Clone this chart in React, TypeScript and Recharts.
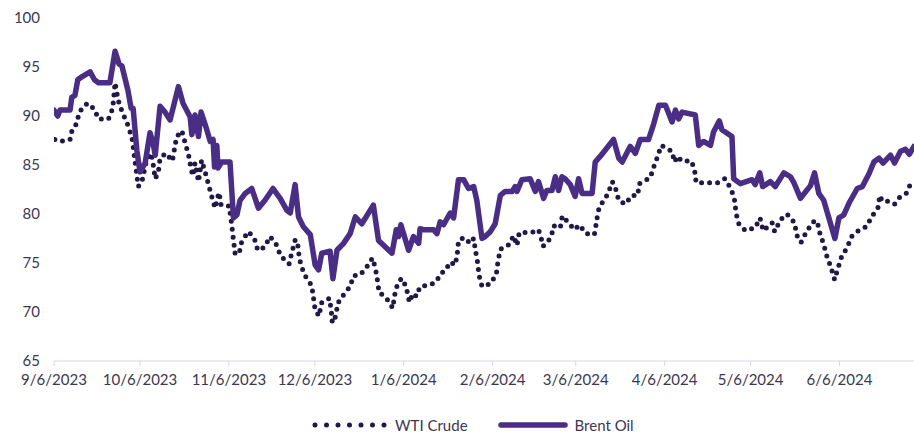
import { LineChart, Line, XAxis, YAxis } from 'recharts'

// x = days since 9/6/2023
const tickDays = [0, 30, 61, 91, 122, 153, 182, 213, 243, 274]
const tickLabels = [
  '9/6/2023',
  '10/6/2023',
  '11/6/2023',
  '12/6/2023',
  '1/6/2024',
  '2/6/2024',
  '3/6/2024',
  '4/6/2024',
  '5/6/2024',
  '6/6/2024',
]
const yTicks = [65, 70, 75, 80, 85, 90, 95, 100]

const brentDays = [
  0, 1.3, 2.1, 5.6, 6.2, 7.3, 8.3, 9.7, 12.6, 14.1, 15.5, 19.5, 21.3, 22.7, 23.7, 25.8, 26.9, 27.6, 28.9, 30,
  31.8, 33.5, 34.6, 35.3, 37, 38.7, 40.5, 43.4, 45, 47.5, 48.1, 49.2, 50.4, 51.3, 53.3, 54.5, 55.5, 56, 56.8, 57.2,
  58.5, 61.4, 62.6, 63.8, 64.9, 66.7, 69, 71.3, 73.6, 76.4, 78.9, 81.2, 82.4, 84.1, 85.3, 87, 89.4, 91.1, 92.3, 93.4,
  96.3, 97.3, 98.7, 101, 103.3, 105.1, 107.4, 111.4, 113.2, 117.9, 119.4, 120.2, 121, 123.7, 125.4, 127.2, 127.7, 128.9, 132.4, 133.6,
  134.7, 135.9, 138.2, 139.4, 141.1, 142.9, 144.6, 146.4, 147.5, 149.3, 150.4, 152.2, 153.9, 155.7, 157.4, 159.8, 160.9, 161.5, 163.2, 166.1,
  167.9, 169, 170.8, 171.9, 173.7, 174.9, 176, 177.2, 178.3, 180.1, 181.8, 183, 184.2, 187.7, 188.8, 190.6, 195.2, 197, 198.2, 201,
  202.8, 204.5, 207.4, 209.2, 211, 213.3, 215.6, 216.8, 217.9, 219.1, 223.7, 224.9, 226.6, 229, 230.1, 232.1, 233, 236.5, 237.1, 239.4,
  243.5, 244.6, 246.2, 247.2, 249.9, 251.6, 254.6, 256.9, 258.1, 260.4, 263.9, 265.3, 266.8, 268.5, 272.4, 273.8, 275.5, 277.5, 280.2, 282,
  284.3, 286, 287.8, 289.2, 291.8, 293.2, 295.3, 297, 298.4, 300,
]
const brentPrices = [
  90.6, 90.0, 90.6, 90.6, 91.9, 92.1, 93.7, 94.0, 94.5, 93.7, 93.4, 93.4, 96.6, 95.3, 95.1, 92.6, 90.8, 90.8, 86.5, 84.3,
  85.2, 88.3, 87.2, 86.0, 91.0, 90.4, 89.6, 93.0, 91.3, 89.9, 88.1, 90.1, 87.9, 90.4, 88.6, 87.4, 87.6, 84.8, 87.0, 84.7,
  85.3, 85.3, 79.6, 79.9, 81.4, 82.1, 82.6, 80.6, 81.4, 82.6, 81.6, 80.4, 80.1, 83.0, 79.7, 78.7, 77.9, 74.8, 74.3, 76.0,
  76.2, 73.4, 76.3, 77.0, 78.0, 79.7, 79.0, 80.9, 77.3, 76.0, 78.4, 77.7, 78.9, 76.3, 77.7, 77.0, 78.5, 78.4, 78.4, 78.0,
  79.2, 78.9, 80.1, 79.6, 83.5, 83.5, 82.6, 82.8, 81.4, 77.5, 77.7, 78.2, 79.0, 81.9, 82.3, 82.3, 82.8, 82.3, 83.5, 83.6,
  82.3, 83.3, 81.6, 82.4, 82.4, 83.8, 82.4, 83.8, 83.6, 83.0, 81.8, 83.6, 82.1, 82.1, 85.3, 85.9, 87.6, 85.7, 85.3, 86.9,
  86.2, 87.6, 87.6, 89.2, 91.1, 91.1, 89.4, 90.6, 89.7, 90.4, 90.1, 87.0, 87.4, 87.0, 88.4, 89.5, 88.6, 87.9, 83.6, 83.1,
  83.5, 83.0, 84.2, 82.8, 83.3, 82.8, 84.2, 83.8, 83.2, 81.6, 82.9, 84.2, 82.1, 81.4, 77.5, 79.6, 79.9, 81.2, 82.6, 82.8,
  84.1, 85.3, 85.7, 85.2, 86.0, 85.2, 86.4, 86.6, 86.1, 86.9,
]

const wtiDays = [
  0.3, 2.1, 5.6, 6.4, 7.9, 8.8, 11.6, 14.1, 15.5, 19, 20.5, 21.3, 22.4, 23.8, 25.6, 27.2, 29.4, 30.6, 32.3, 33.9,
  34.7, 35.3, 36.4, 37, 39, 41.3, 42, 42.8, 44.6, 45.7, 46.9, 47.7, 48.4, 49.2, 50.4, 51.5, 52.7, 53.9, 55, 56.2,
  57, 57.6, 58.3, 61.1, 61.7, 63.2, 64.6, 65.5, 67.8, 69.9, 71.1, 73.4, 75.4, 77.5, 79.1, 82, 83, 84.1, 84.9, 85.3,
  86.1, 87.6, 89.9, 90.5, 91.1, 92.5, 93.2, 96.1, 96.7, 97.1, 98.3, 99, 100.6, 103.3, 104.5, 106.8, 108.9, 111.1, 112.1, 112.8,
  113.4, 115.8, 118.2, 118.8, 119.6, 120.8, 121.7, 123.1, 124, 125.2, 126.4, 127.7, 131.5, 133.6, 134.7, 136.5, 138.2, 140, 140.8, 141.1,
  143.2, 145.2, 146.4, 147, 147.8, 148.3, 149.3, 152.4, 154.3, 154.9, 155.7, 158.8, 160.3, 161.5, 162.3, 166.5, 169, 169.9, 170.6, 173.4,
  174.3, 176.6, 177.3, 179.5, 181.5, 183.3, 185.6, 188.5, 189.2, 189.8, 191.1, 193.1, 194.8, 196, 197, 199.3, 201.6, 203.6, 204.2, 208,
  209.2, 210.6, 211.8, 215.6, 216.4, 217.6, 218.9, 222.4, 223.5, 224, 231.5, 234, 236.3, 237.5, 237.9, 238.9, 241.2, 244.6, 246.3, 247.4,
  250.5, 251.4, 253.4, 255.7, 258.4, 259, 260.6, 262.5, 264.8, 266.2, 267.1, 268.5, 269.6, 271.1, 272.3, 273.5, 274.7, 276.7, 278.2, 281,
  283.4, 285.4, 287.4, 288.1, 288.9, 291.2, 293.2, 295, 297.3, 299, 300,
]
const wtiPrices = [
  87.6, 87.4, 87.6, 88.7, 89.2, 90.4, 91.3, 90.7, 89.7, 89.7, 90.8, 93.4, 91.6, 90.4, 89.2, 87.8, 82.8, 83.2, 85.5, 86.2,
  84.9, 83.6, 84.3, 85.7, 86.2, 85.4, 86.6, 87.9, 88.5, 87.3, 86.1, 84.8, 83.9, 85.2, 83.3, 85.5, 84.3, 83.0, 81.8, 80.6,
  81.6, 82.2, 80.9, 80.8, 79.6, 75.9, 76.0, 77.2, 78.2, 77.5, 76.3, 76.6, 77.7, 76.9, 75.7, 74.9, 76.1, 77.3, 77.3, 76.1,
  74.8, 73.7, 72.7, 71.5, 70.2, 69.6, 70.9, 71.4, 70.2, 68.9, 69.6, 70.9, 71.6, 72.6, 73.7, 73.8, 74.5, 75.5, 74.5, 73.3,
  72.0, 71.5, 70.4, 71.7, 72.6, 73.3, 73.4, 72.2, 71.0, 71.9, 71.6, 72.6, 72.8, 73.2, 73.9, 74.2, 75.1, 74.8, 76.2, 77.3,
  77.6, 77.0, 77.5, 76.3, 75.0, 73.7, 72.6, 72.9, 73.9, 75.2, 76.4, 76.9, 77.8, 76.8, 78.1, 78.1, 78.4, 77.6, 76.7, 77.6,
  78.8, 78.6, 79.8, 79.1, 78.4, 78.9, 78.0, 77.9, 79.1, 80.3, 81.1, 82.0, 83.3, 82.5, 81.4, 81.0, 81.9, 81.9, 83.1, 83.7,
  84.8, 85.9, 87.0, 86.4, 85.3, 85.9, 85.4, 85.4, 84.4, 83.2, 83.2, 83.6, 82.5, 81.3, 80.1, 79.0, 78.3, 78.6, 79.6, 78.3,
  79.1, 78.2, 79.4, 80.0, 79.1, 77.9, 77.1, 78.2, 79.2, 79.3, 78.1, 76.9, 75.7, 74.5, 73.3, 74.5, 75.6, 76.6, 77.7, 78.4,
  78.7, 79.8, 80.6, 81.9, 81.3, 81.3, 81.0, 81.7, 82.1, 83.2, 83.3,
]

const brentData = brentDays.map((day, i) => ({ day, value: brentPrices[i] }))
const wtiData = wtiDays.map((day, i) => ({ day, value: wtiPrices[i] }))

const BRENT = '#4a2d85'
const WTI = '#221848'
const TEXT = '#3b3750'
const FONT = 'Lato, "Open Sans", sans-serif'

const formatTick = (day: number) => {
  const idx = tickDays.indexOf(day)
  return idx >= 0 ? tickLabels[idx] : ''
}

export default function App() {
  return (
    <div style={{ position: 'absolute', left: 0, top: 0, width: 914, height: 434, background: '#fff', fontFamily: FONT, overflow: 'hidden' }}>
      <LineChart width={914} height={391} margin={{ top: 18, right: 0, left: 0, bottom: 0 }}>
        <XAxis
          type="number"
          dataKey="day"
          domain={[0, 300]}
          ticks={tickDays}
          tickFormatter={formatTick}
          allowDataOverflow
          height={30}
          stroke="#d9d4f0"
          tickSize={5}
          tickMargin={8}
          tick={{ fill: TEXT, fontSize: 15, fontFamily: FONT }}
          interval={0}
        />
        <YAxis
          type="number"
          domain={[65, 100]}
          ticks={yTicks}
          width={54}
          axisLine={false}
          tickLine={false}
          tickSize={6}
          tickMargin={8}
          tick={{ fill: TEXT, fontSize: 15, fontFamily: FONT }}
        />
        <Line
          data={wtiData}
          dataKey="value"
          type="linear"
          stroke={WTI}
          strokeWidth={5}
          strokeDasharray="0 8"
          strokeLinecap="round"
          dot={false}
          activeDot={false}
          isAnimationActive={false}
        />
        <Line
          data={brentData}
          dataKey="value"
          type="linear"
          stroke={BRENT}
          strokeWidth={5.5}
          strokeLinejoin="round"
          strokeLinecap="round"
          dot={false}
          activeDot={false}
          isAnimationActive={false}
        />
      </LineChart>
      <div
        style={{
          position: 'absolute',
          left: 312,
          top: 416,
          height: 18,
          lineHeight: '18px',
          display: 'flex',
          alignItems: 'center',
          whiteSpace: 'nowrap',
          fontSize: 15,
          color: TEXT,
        }}
      >
        <svg width={76} height={10}>
          <line x1={3} y1={5} x2={73} y2={5} stroke={WTI} strokeWidth={5} strokeDasharray="0 11.5" strokeLinecap="round" />
        </svg>
        <span style={{ marginLeft: 7 }}>WTI Crude</span>
        <svg width={70} height={10} style={{ marginLeft: 30 }}>
          <line x1={3} y1={5} x2={67} y2={5} stroke={BRENT} strokeWidth={5.5} strokeLinecap="round" />
        </svg>
        <span style={{ marginLeft: 7 }}>Brent Oil</span>
      </div>
    </div>
  )
}
